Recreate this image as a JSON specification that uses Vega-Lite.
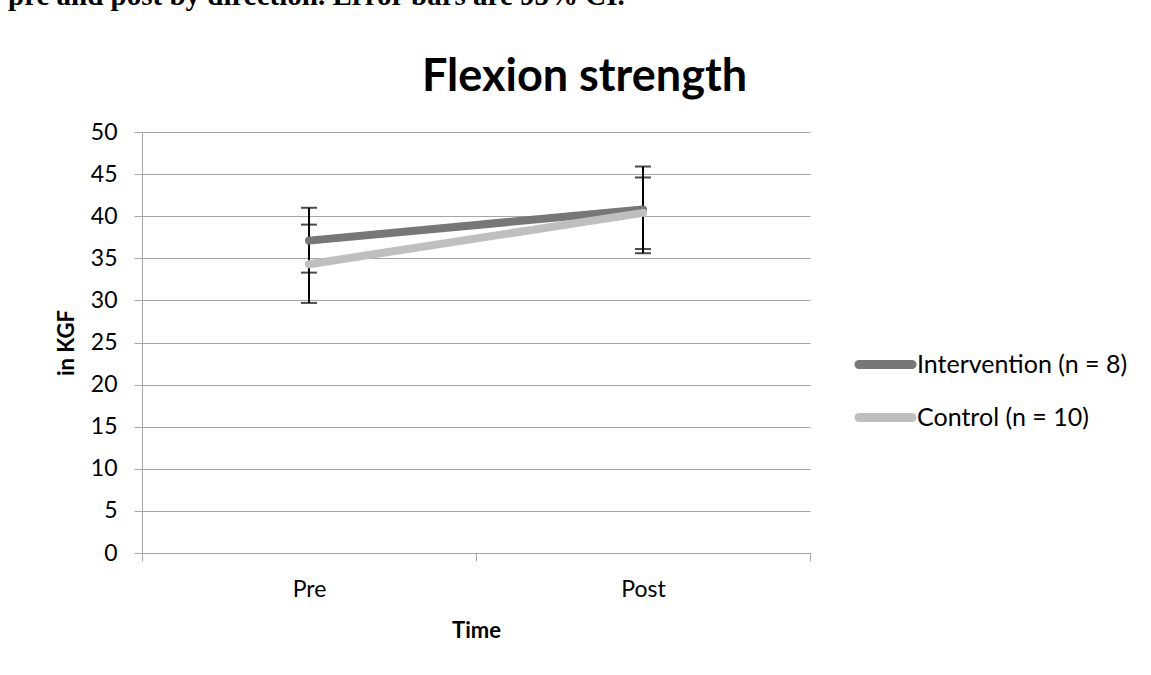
{
  "$schema": "https://vega.github.io/schema/vega-lite/v6.json",
  "width": 668,
  "height": 421,
  "autosize": {"type": "none"},
  "padding": {"left": 142, "top": 132, "right": 341, "bottom": 122},
  "background": "white",
  "title": {
    "text": "pre and post by direction.  Error bars are 95% CI.",
    "anchor": "start",
    "frame": "group",
    "font": "Liberation Serif",
    "fontSize": 29,
    "fontWeight": "bold",
    "color": "black",
    "baseline": "alphabetic",
    "offset": 0,
    "dx": -134,
    "dy": -20
  },
  "data": {
    "values": [
      {"time": "Pre", "group": "Intervention (n = 8)", "mean": 37.1, "lo": 33.3, "hi": 41.0},
      {"time": "Post", "group": "Intervention (n = 8)", "mean": 40.8, "lo": 35.6, "hi": 45.9},
      {"time": "Pre", "group": "Control (n = 10)", "mean": 34.3, "lo": 29.7, "hi": 39.0},
      {"time": "Post", "group": "Control (n = 10)", "mean": 40.4, "lo": 36.1, "hi": 44.6}
    ]
  },
  "layer": [
    {
      "mark": {"type": "rule", "color": "black", "strokeWidth": 2},
      "encoding": {
        "x": {
          "field": "time", "type": "nominal",
          "scale": {"type": "band", "domain": ["Pre", "Post"], "paddingInner": 0, "paddingOuter": 0},
          "axis": {
            "orient": "top", "title": "Flexion strength", "labels": false, "ticks": false, "domain": false, "grid": false,
            "titleFont": "Lato", "titleFontSize": 45, "titleFontWeight": "bold", "titleColor": "black",
            "titleX": 442, "titleY": -42, "titleAlign": "center", "titleBaseline": "alphabetic"
          }
        },
        "y": {
          "field": "lo", "type": "quantitative", "title": "in KGF",
          "scale": {"domain": [0, 50], "nice": false},
          "axis": {"values": [0, 5, 10, 15, 20, 25, 30, 35, 40, 45, 50], "grid": true, "labelPadding": 17, "titlePadding": 12}
        },
        "y2": {"field": "hi"}
      }
    },
    {
      "mark": {"type": "tick", "color": "black", "thickness": 2, "size": 16},
      "encoding": {
        "x": {"field": "time", "type": "nominal", "scale": {"type": "band", "domain": ["Pre", "Post"], "paddingInner": 0, "paddingOuter": 0}, "axis": null},
        "y": {
          "field": "lo", "type": "quantitative", "title": "in KGF",
          "scale": {"domain": [0, 50], "nice": false},
          "axis": {"values": [0, 5, 10, 15, 20, 25, 30, 35, 40, 45, 50], "grid": true, "labelPadding": 17, "titlePadding": 12}
        }
      }
    },
    {
      "mark": {"type": "tick", "color": "black", "thickness": 2, "size": 16},
      "encoding": {
        "x": {"field": "time", "type": "nominal", "scale": {"type": "band", "domain": ["Pre", "Post"], "paddingInner": 0, "paddingOuter": 0}, "axis": null},
        "y": {
          "field": "hi", "type": "quantitative", "title": "in KGF",
          "scale": {"domain": [0, 50], "nice": false},
          "axis": {"values": [0, 5, 10, 15, 20, 25, 30, 35, 40, 45, 50], "grid": true, "labelPadding": 17, "titlePadding": 12}
        }
      }
    },
    {
      "mark": {"type": "line", "strokeWidth": 8, "strokeCap": "round", "strokeJoin": "round"},
      "encoding": {
        "x": {
          "field": "time", "type": "nominal",
          "scale": {"type": "band", "domain": ["Pre", "Post"], "paddingInner": 0, "paddingOuter": 0},
          "axis": {"orient": "bottom", "title": "Time", "labelAngle": 0, "tickBand": "extent", "grid": false, "labelPadding": 17, "titlePadding": 19}
        },
        "y": {
          "field": "mean", "type": "quantitative", "title": "in KGF",
          "scale": {"domain": [0, 50], "nice": false},
          "axis": {"values": [0, 5, 10, 15, 20, 25, 30, 35, 40, 45, 50], "grid": true, "labelPadding": 17, "titlePadding": 12}
        },
        "color": {
          "field": "group", "type": "nominal",
          "scale": {"domain": ["Intervention (n = 8)", "Control (n = 10)"], "range": ["#777777", "#bfbfbf"]},
          "legend": {
            "orient": "none", "legendX": 712, "legendY": 201, "title": null,
            "symbolType": "stroke", "symbolStrokeWidth": 9, "symbolSize": 2810,
            "labelFont": "Lato", "labelFontSize": 25, "labelColor": "black", "labelOffset": 0, "labelLimit": 0,
            "rowPadding": 3, "padding": 0,
            "encode": {"symbols": {"update": {"strokeCap": {"value": "round"}}}}
          }
        }
      }
    }
  ],
  "resolve": {"axis": {"x": "independent"}},
  "config": {
    "view": {"stroke": null},
    "axis": {
      "domainColor": "#a6a6a6", "tickColor": "#a6a6a6", "gridColor": "#a6a6a6",
      "labelFont": "Lato", "labelFontSize": 23, "labelColor": "black",
      "titleFont": "Lato", "titleFontWeight": "bold", "titleFontSize": 22, "titleColor": "black",
      "tickSize": 8
    }
  }
}
